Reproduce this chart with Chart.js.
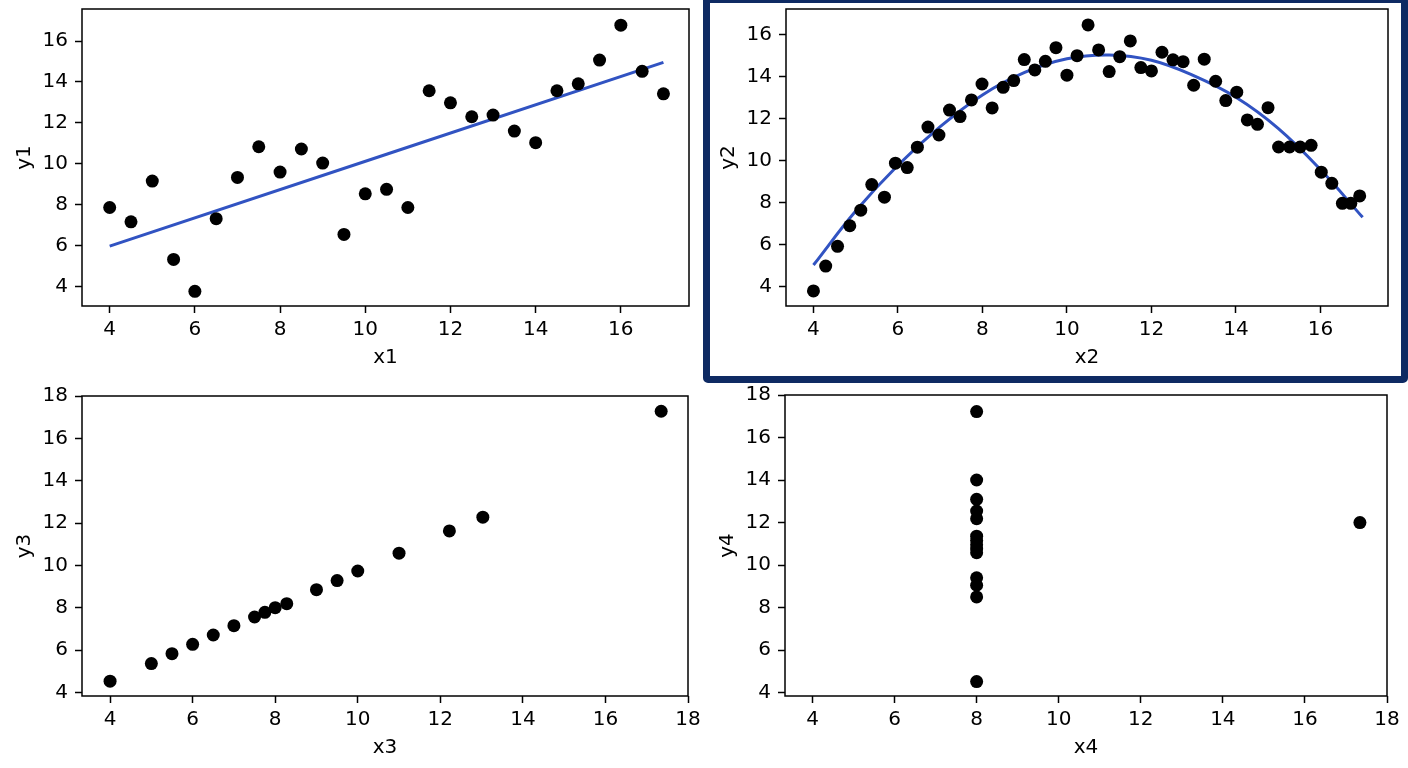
<!DOCTYPE html>
<html>
<head>
<meta charset="utf-8">
<script src="https://cdn.jsdelivr.net/npm/chart.js@4"></script>
<style>
    html, body { margin: 0; padding: 0; background: #fff; overflow: hidden; }
    body { width: 1408px; height: 768px; position: relative; }
    canvas { position: absolute; }
    .highlight { position: absolute; left: 703px; top: -4px; width: 705px; height: 387px; box-sizing: border-box; border: 7px solid #0e2a63; border-radius: 5px; pointer-events: none; }
</style>
</head>
<body>
<canvas id="c1" width="701" height="380" style="left:0px;top:0px"></canvas>
<canvas id="c2" width="696" height="380" style="left:704px;top:0px"></canvas>
<canvas id="c3" width="700" height="383" style="left:0px;top:387px"></canvas>
<canvas id="c4" width="696" height="384" style="left:703px;top:386px"></canvas>
<div class="highlight"></div>
<script>
// panel 1
const x1 = [4, 4.5, 5, 5.5, 6, 6.5, 7, 7.5, 8, 8.5, 9, 9.5, 10, 10.5, 11, 11.5, 12, 12.5, 13, 13.5, 14, 14.5, 15, 15.5, 16, 16.5, 17];
const y1 = [7.86, 7.16, 9.15, 5.32, 3.76, 7.31, 9.33, 10.83, 9.59, 10.72, 10.03, 6.54, 8.53, 8.75, 7.86, 13.57, 12.98, 12.30, 12.38, 11.60, 11.03, 13.57, 13.91, 15.07, 16.78, 14.52, 13.42];
const fitX1 = [4, 17];
const fitY1 = [5.97, 14.96];

// panel 2
const x2 = [4.0, 4.29, 4.57, 4.86, 5.12, 5.38, 5.68, 5.94, 6.22, 6.46, 6.71, 6.97, 7.22, 7.47, 7.74, 7.99, 8.23, 8.49, 8.74, 8.99, 9.24, 9.49, 9.74, 10.0, 10.24, 10.5, 10.75, 11.0, 11.25, 11.5, 11.75, 12.0, 12.25, 12.51, 12.75, 13.0, 13.25, 13.52, 13.76, 14.02, 14.27, 14.51, 14.76, 15.01, 15.27, 15.52, 15.78, 16.02, 16.27, 16.52, 16.72, 16.93];
const y2 = [3.80, 4.98, 5.92, 6.90, 7.64, 8.86, 8.26, 9.88, 9.67, 10.64, 11.60, 11.22, 12.41, 12.10, 12.89, 13.65, 12.51, 13.49, 13.81, 14.81, 14.32, 14.73, 15.38, 14.07, 15.0, 16.46, 15.27, 14.24, 14.95, 15.70, 14.43, 14.27, 15.16, 14.80, 14.71, 13.59, 14.83, 13.78, 12.86, 13.26, 11.94, 11.73, 12.52, 10.65, 10.65, 10.65, 10.73, 9.45, 8.92, 7.97, 7.97, 8.32];
const fitX2 = [4, 5, 6, 7, 8, 9, 10, 11, 12, 13, 14, 15, 16, 17];
const fitY2 = [5.03, 7.6, 9.78, 11.62, 13.13, 14.2, 14.85, 15.03, 14.78, 14.05, 13.02, 11.54, 9.58, 7.30];

// panel 3
const x3 = [4, 5, 5.5, 6, 6.5, 7, 7.5, 7.75, 8, 8.28, 9, 9.5, 10, 11, 12.22, 13.03, 17.35];
const y3 = [4.54, 5.37, 5.84, 6.28, 6.72, 7.16, 7.57, 7.79, 8.01, 8.20, 8.86, 9.29, 9.74, 10.58, 11.63, 12.28, 17.28];

// panel 4
const x4 = [8, 8, 8, 8, 8, 8, 8, 8, 8, 8, 8, 8, 8, 8, 17.34];
const y4 = [17.22, 14.0, 13.09, 12.54, 12.18, 11.36, 11.15, 10.95, 10.75, 10.58, 9.40, 9.05, 8.50, 4.52, 12.0];

// tick labels
const ticksTop = [4, 6, 8, 10, 12, 14, 16];
const ticksBottom = [4, 6, 8, 10, 12, 14, 16, 18];

const FONT = { family: 'DejaVu Sans', size: 20 };
const LINE_BLUE = '#3153c2';

const boxPlugin = {
    id: 'box',
    beforeDatasetsDraw(chart) {
        const a = chart.chartArea;
        const ctx = chart.ctx;
        ctx.save();
        ctx.strokeStyle = '#000';
        ctx.lineWidth = 1.5;
        ctx.strokeRect(a.left, a.top, a.right - a.left, a.bottom - a.top);
        ctx.restore();
    }
};

function pairs(xs, ys) {
    return xs.map((x, i) => ({ x: x, y: ys[i] }));
}

function axis(title, range, ticks, isX) {
    return {
        type: 'linear',
        min: range[0],
        max: range[1],
        afterBuildTicks: s => { s.ticks = ticks.map(v => ({ value: v })); },
        afterFit: s => {
            // fixed axis size, no extra room for end labels
            if (isX) s.height = 74; else s.width = 82;
            s.paddingTop = 0; s.paddingBottom = 0;
            s.paddingLeft = 0; s.paddingRight = 0;
        },
        grid: { display: true, drawOnChartArea: false, drawTicks: true, tickLength: 7, tickColor: '#000', tickWidth: 1.5 },
        border: { display: false },
        ticks: { color: '#000', font: FONT, padding: isX ? 5 : 7, autoSkip: false, maxRotation: 0 },
        title: { display: true, text: title, color: '#000', font: FONT, padding: isX ? { top: 0, bottom: 10 } : { top: 13, bottom: 0 } }
    };
}

function makePanel(id, xs, ys, fit, xLabel, yLabel, xRange, yRange, xTicks, yTicks) {
    const datasets = [{
        data: pairs(xs, ys),
        backgroundColor: '#000',
        borderColor: '#000',
        pointRadius: 6.5,
        pointBorderWidth: 0,
        order: 0
    }];
    if (fit) {
        datasets.push({
            type: 'line',
            data: pairs(fit[0], fit[1]),
            borderColor: LINE_BLUE,
            borderWidth: 3,
            pointRadius: 0,
            tension: 0.4,
            fill: false,
            order: 1
        });
    }
    new Chart(document.getElementById(id), {
        type: 'scatter',
        data: { datasets: datasets },
        options: {
            responsive: false,
            animation: false,
            devicePixelRatio: 1,
            layout: { padding: { top: 9, right: 12, left: 0, bottom: 0 } },
            plugins: { legend: { display: false }, tooltip: { enabled: false } },
            scales: {
                x: axis(xLabel, xRange, xTicks, true),
                y: axis(yLabel, yRange, yTicks, false)
            }
        },
        plugins: [boxPlugin]
    });
}

makePanel('c1', x1, y1, [fitX1, fitY1], 'x1', 'y1', [3.35, 17.6], [3.04, 17.57], ticksTop, ticksTop);
makePanel('c2', x2, y2, [fitX2, fitY2], 'x2', 'y2', [3.35, 17.6], [3.08, 17.22], ticksTop, ticksTop);
makePanel('c3', x3, y3, null, 'x3', 'y3', [3.32, 18], [3.84, 18], ticksBottom, ticksBottom);
makePanel('c4', x4, y4, null, 'x4', 'y4', [3.33, 18], [3.84, 18], ticksBottom, ticksBottom);
</script>
</body>
</html>
